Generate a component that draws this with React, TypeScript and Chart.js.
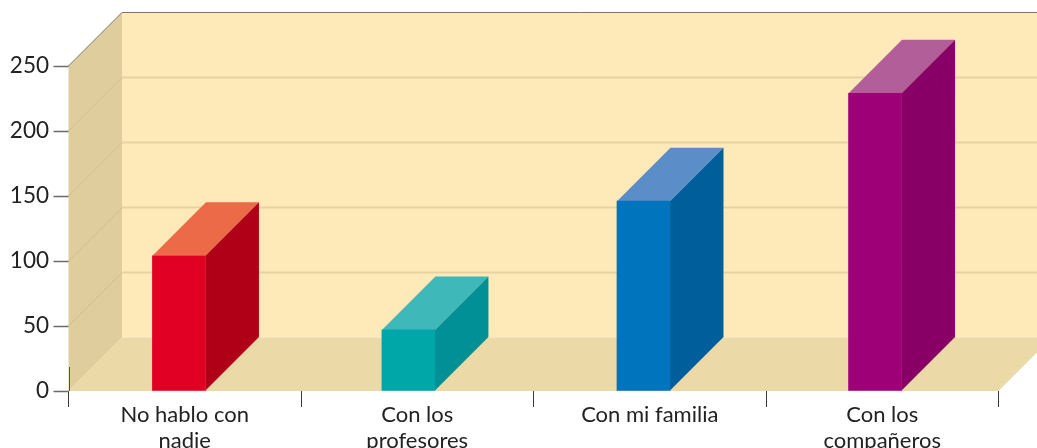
import React, { useEffect, useRef } from "react";
import { Chart, registerables } from "chart.js";

Chart.register(...registerables);

const categories: (string | string[])[] = [
  ["No hablo con", "nadie"],
  ["Con los", "profesores"],
  "Con mi familia",
  ["Con los", "compañeros"],
];
// Horizontal place of each bar, in category units along the floor.
const barCentres = [0.475, 1.462, 2.473, 3.469];
const barValues = [104, 47, 146, 229];
const frontColours = ["#E10024", "#00A7A9", "#0075BE", "#9E0078"];
const sideColours = ["#B00017", "#009095", "#005E9B", "#880066"];
const topColours = ["#EC6A48", "#3EB8B8", "#5B8DC8", "#B25E98"];

const DEPTH = 53.5;
const FONT = "Lato, 'Open Sans', sans-serif";

function fillPolygon(ctx: CanvasRenderingContext2D, colour: string, pts: number[][]) {
  ctx.fillStyle = colour;
  ctx.beginPath();
  pts.forEach(([x, y], i) => (i ? ctx.lineTo(x, y) : ctx.moveTo(x, y)));
  ctx.closePath();
  ctx.fill();
}

function strokeLine(
  ctx: CanvasRenderingContext2D,
  colour: string,
  width: number,
  x1: number,
  y1: number,
  x2: number,
  y2: number
) {
  ctx.strokeStyle = colour;
  ctx.lineWidth = width;
  ctx.beginPath();
  ctx.moveTo(x1, y1);
  ctx.lineTo(x2, y2);
  ctx.stroke();
}

// Paints the room behind the bars: back wall, side wall, floor and their grid lines.
const roomPlugin = {
  id: "room",
  beforeDatasetsDraw(chart: any) {
    const { ctx, scales, width } = chart;
    const y = scales.y;
    const x = scales.x;
    const left = x.left;
    const right = x.right;
    const base = y.getPixelForValue(0);
    const roof = y.getPixelForValue(250);
    const backX = left + DEPTH;
    ctx.save();
    fillPolygon(ctx, "#FEEAB9", [
      [backX, roof - DEPTH],
      [width, roof - DEPTH],
      [width, base - DEPTH],
      [backX, base - DEPTH],
    ]);
    fillPolygon(ctx, "#DFCD9E", [
      [left, roof],
      [backX, roof - DEPTH],
      [backX, base - DEPTH],
      [left, base],
    ]);
    fillPolygon(ctx, "#ECD9A8", [
      [left, base],
      [backX, base - DEPTH],
      [width, base - DEPTH],
      [width, base - (width - right)],
      [right, base],
    ]);
    y.ticks.forEach((tick: any) => {
      if (tick.value === 0) return;
      const py = y.getPixelForValue(tick.value);
      if (tick.value < 250) {
        strokeLine(ctx, "#CFBE92", 1, left, py, backX, py - DEPTH);
        strokeLine(ctx, "#E5D2A3", 2, backX, py - DEPTH, width, py - DEPTH);
      }
    });
    strokeLine(ctx, "#77756C", 1, left, roof, backX, roof - DEPTH);
    strokeLine(ctx, "#77756C", 1, backX, roof - DEPTH, width, roof - DEPTH);
    strokeLine(ctx, "#55534E", 1, Math.round(left) + 0.5, base - 24, Math.round(left) + 0.5, base);

    // Top and side faces of each bar, built from the drawn bar element.
    chart.getDatasetMeta(0).data.forEach((bar: any, i: number) => {
      const l = bar.x - bar.width / 2;
      const r = bar.x + bar.width / 2;
      fillPolygon(ctx, topColours[i], [
        [l, bar.y],
        [r, bar.y],
        [r + DEPTH, bar.y - DEPTH],
        [l + DEPTH, bar.y - DEPTH],
      ]);
      fillPolygon(ctx, sideColours[i], [
        [r, bar.y],
        [r + DEPTH, bar.y - DEPTH],
        [r + DEPTH, bar.base - DEPTH],
        [r, bar.base],
      ]);
    });
    ctx.restore();
  },
};

export default function App() {
  const ref = useRef<HTMLCanvasElement>(null);

  useEffect(() => {
    const chart = new Chart(ref.current!, {
      type: "bar",
      data: {
        labels: categories as any,
        datasets: [
          {
            data: barValues.map((v, i) => ({ x: barCentres[i], y: v })) as any,
            xAxisID: "xBars",
            yAxisID: "y",
            backgroundColor: frontColours,
            barThickness: 53,
            borderWidth: 0,
          },
        ],
      },
      options: {
        animation: false,
        responsive: false,
        layout: { padding: { top: 66, right: 38.5, left: 0, bottom: 0 } },
        plugins: { legend: { display: false }, tooltip: { enabled: false } },
        scales: {
          x: {
            type: "category",
            offset: true,
            position: "bottom",
            border: { display: false },
            grid: {
              offset: true,
              drawOnChartArea: false,
              tickLength: 16,
              tickColor: "#3A3A3A",
              tickWidth: 1,
            },
            ticks: {
              color: "#222222",
              font: { family: FONT, size: 22, lineHeight: 1.18 },
              padding: -5,
              autoSkip: false,
              maxRotation: 0,
            },
            afterFit(scale: any) {
              scale.height = 57;
            },
          },
          xBars: { type: "linear", display: false, min: 0, max: 4, offset: false },
          y: {
            min: 0,
            max: 250,
            position: "left",
            border: { display: false },
            grid: {
              drawOnChartArea: false,
              tickLength: 15,
              tickColor: "#6A6A6A",
              tickWidth: 1.5,
            },
            ticks: {
              stepSize: 50,
              color: "#222222",
              font: { family: FONT, size: 22.5 },
              padding: 4.5,
            },
            afterFit(scale: any) {
              scale.width = 68.5;
            },
          },
        },
      } as any,
      plugins: [roomPlugin],
    });
    return () => chart.destroy();
  }, []);

  return (
    <div style={{ position: "absolute", left: 0, top: 0, width: 1037, height: 448, overflow: "hidden", background: "#fff" }}>
      <canvas ref={ref} width={1037} height={448} style={{ display: "block" }} />
    </div>
  );
}
